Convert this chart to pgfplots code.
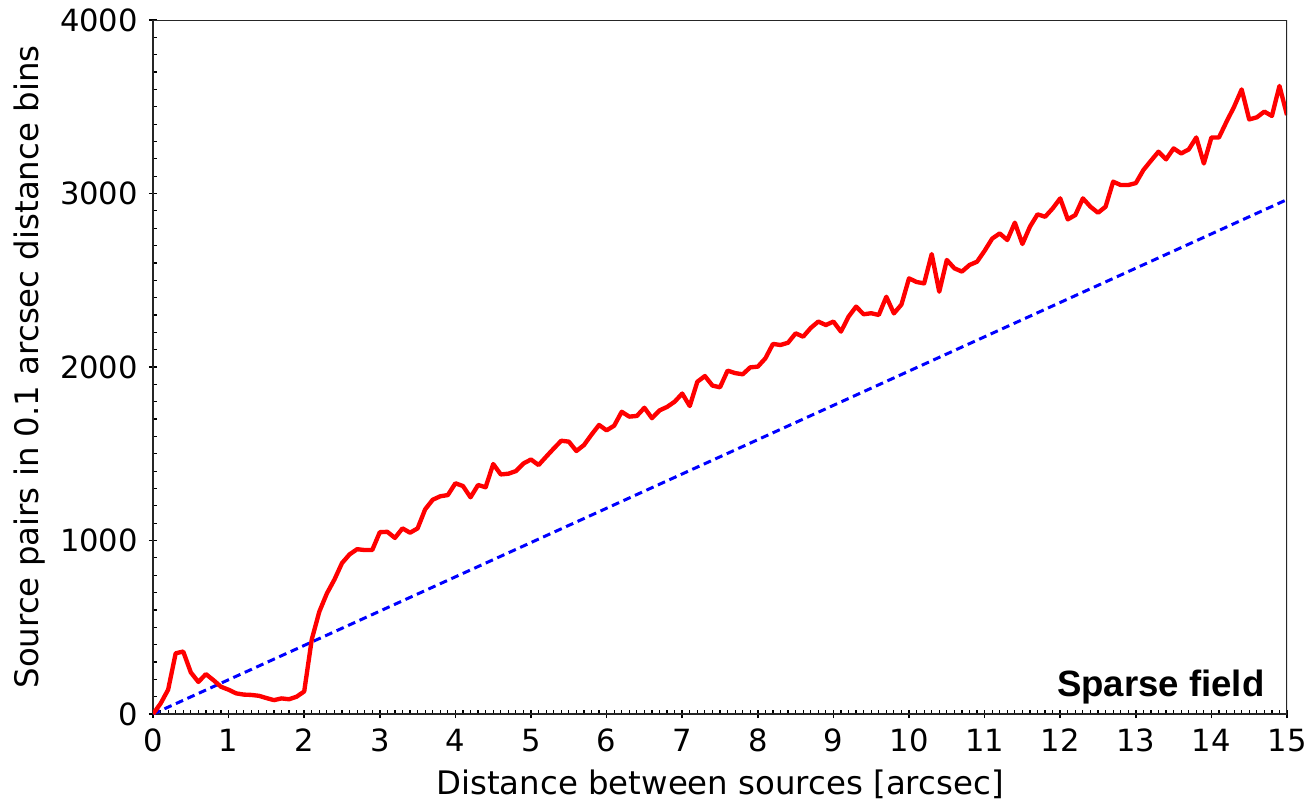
\documentclass[border=0pt]{standalone}
\usepackage{pgfplots}
\pgfplotsset{compat=1.18}
\usepackage{fontspec}
\setmainfont{DejaVu Sans}
\newfontfamily\boldsans{Liberation Sans}

\begin{document}
\begin{tikzpicture}
\begin{axis}[
  scale only axis,
  width=378pt, height=231.33pt,
  xmin=0, xmax=15, ymin=0, ymax=4000,
  xtick={0,1,...,15},
  ytick={0,1000,2000,3000,4000},
  minor x tick num=9,
  minor y tick num=9,
  axis x line*=bottom, axis y line*=left,
  axis line style={line width=0.6pt, black!85},
  every outer x axis line/.append style={-},
  every outer y axis line/.append style={-},
  tick align=inside,
  major tick length=2.8pt,
  minor tick length=1.3pt,
  major x tick style={yshift=-1.4pt, line width=0.5pt, black},
  major y tick style={xshift=-1.4pt, line width=0.5pt, black},
  minor tick style={line width=0.4pt, black},
  /pgf/number format/assume math mode=true,
  /pgf/number format/1000 sep={},
  ticklabel style={font=\fontsize{10.2}{12}\selectfont},
  xticklabel style={yshift=-1.5pt},
  yticklabel style={xshift=-1.5pt},
  xlabel={Distance between sources [arcsec]},
  ylabel={Source pairs in 0.1 arcsec distance bins},
  label style={font=\fontsize{10.8}{13}\selectfont},
  xlabel style={yshift=1pt},
  ylabel style={yshift=-2pt},
  clip=true,
]
% expected pair counts for randomly placed sources
\addplot[blue, line width=1pt, dash pattern=on 2.6pt off 1.6pt] coordinates {(0,0) (15,2965)};
% measured pair counts per 0.1 arcsec bin
\addplot[red, line width=1.45pt, line join=round] coordinates {
(0.0,0) (0.1,60) (0.2,140) (0.3,350) (0.4,360) (0.5,240) (0.6,185) (0.7,230) (0.8,195) (0.9,157)
(1.0,140) (1.1,119) (1.2,112) (1.3,110) (1.4,105) (1.5,92) (1.6,80) (1.7,90) (1.8,85) (1.9,100)
(2.0,130) (2.1,430) (2.2,590) (2.3,695) (2.4,775) (2.5,870) (2.6,920) (2.7,950) (2.8,945) (2.9,945)
(3.0,1048) (3.1,1050) (3.2,1015) (3.3,1070) (3.4,1045) (3.5,1070) (3.6,1180) (3.7,1235) (3.8,1255) (3.9,1262)
(4.0,1330) (4.1,1314) (4.2,1249) (4.3,1320) (4.4,1307) (4.5,1441) (4.6,1381) (4.7,1385) (4.8,1400) (4.9,1444)
(5.0,1467) (5.1,1435) (5.2,1483) (5.3,1530) (5.4,1575) (5.5,1570) (5.6,1516) (5.7,1550) (5.8,1610) (5.9,1666)
(6.0,1635) (6.1,1662) (6.2,1742) (6.3,1714) (6.4,1718) (6.5,1765) (6.6,1705) (6.7,1750) (6.8,1770) (6.9,1800)
(7.0,1847) (7.1,1775) (7.2,1915) (7.3,1948) (7.4,1893) (7.5,1883) (7.6,1979) (7.7,1965) (7.8,1958) (7.9,1998)
(8.0,2002) (8.1,2050) (8.2,2133) (8.3,2127) (8.4,2140) (8.5,2194) (8.6,2175) (8.7,2225) (8.8,2262) (8.9,2242)
(9.0,2262) (9.1,2204) (9.2,2290) (9.3,2348) (9.4,2304) (9.5,2310) (9.6,2300) (9.7,2405) (9.8,2309) (9.9,2360)
(10.0,2511) (10.1,2490) (10.2,2482) (10.3,2651) (10.4,2434) (10.5,2617) (10.6,2569) (10.7,2550) (10.8,2588) (10.9,2607)
(11.0,2670) (11.1,2740) (11.2,2770) (11.3,2732) (11.4,2832) (11.5,2709) (11.6,2809) (11.7,2880) (11.8,2866) (11.9,2914)
(12.0,2972) (12.1,2851) (12.2,2876) (12.3,2972) (12.4,2924) (12.5,2889) (12.6,2924) (12.7,3068) (12.8,3049) (12.9,3049)
(13.0,3060) (13.1,3135) (13.2,3189) (13.3,3241) (13.4,3197) (13.5,3260) (13.6,3231) (13.7,3254) (13.8,3323) (13.9,3173)
(14.0,3323) (14.1,3323) (14.2,3414) (14.3,3500) (14.4,3600) (14.5,3427) (14.6,3439) (14.7,3472) (14.8,3447) (14.9,3620)
(15.0,3452)
};
% right and top frame lines
\draw[line width=0.6pt, black!85] (rel axis cs:0,1) -- (rel axis cs:1,1) -- (rel axis cs:1,0);
\node[anchor=base east, font=\boldsans\bfseries\fontsize{12.2}{14}\selectfont, inner sep=0pt]
  at ([xshift=-7.3pt, yshift=5.7pt]rel axis cs:1,0) {Sparse field};
\end{axis}
\pgfresetboundingbox
\path ([xshift=-51pt, yshift=-30.67pt]current axis.south west) rectangle ([xshift=6pt, yshift=6.67pt]current axis.north east);
\end{tikzpicture}
\end{document}
